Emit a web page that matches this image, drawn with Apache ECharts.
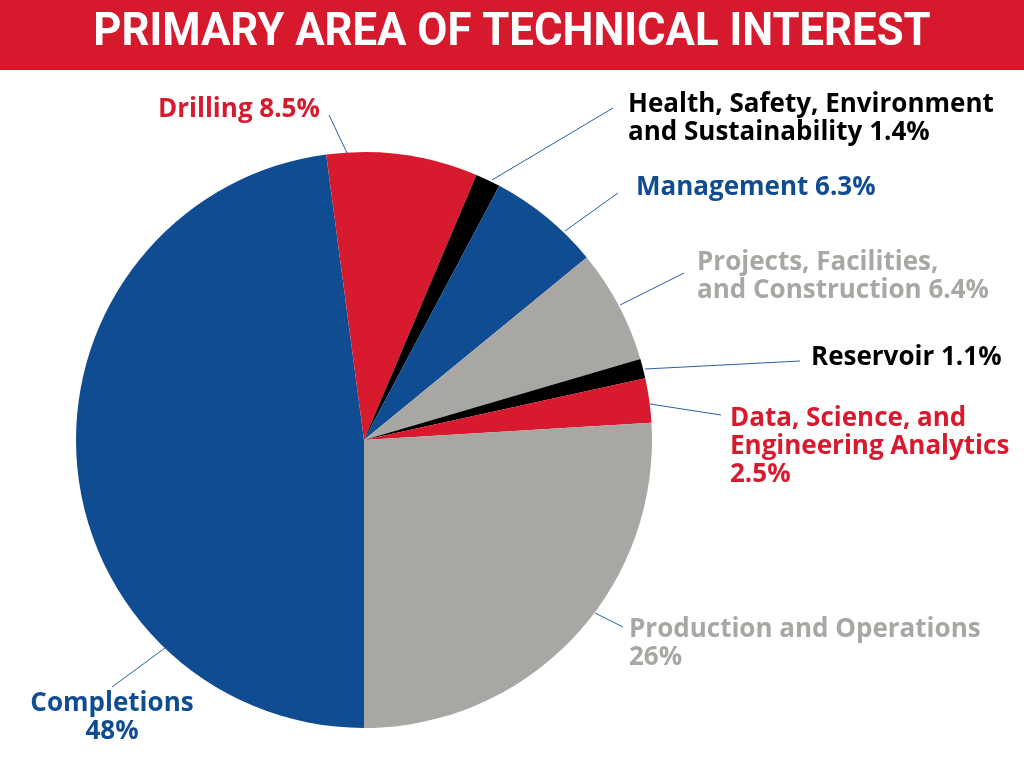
<!DOCTYPE html>
<html>
<head>
<meta charset="utf-8">
<script src="https://cdn.jsdelivr.net/npm/echarts@6/dist/echarts.min.js"></script>
<style>
  html, body { margin: 0; padding: 0; background: #ffffff; }
  #chart { width: 1024px; height: 768px; }
</style>
</head>
<body>
<div id="chart"></div>
<script>
// ---- Data ----
const titleText = 'PRIMARY AREA OF TECHNICAL INTEREST';
const categories = [
  'Completions',
  'Drilling',
  'Health, Safety, Environment\nand Sustainability',
  'Management',
  'Projects, Facilities,\nand Construction',
  'Reservoir',
  'Data, Science, and\nEngineering Analytics',
  'Production and Operations'
];
const values = [48, 8.5, 1.4, 6.3, 6.4, 1.1, 2.5, 26];
const valueLabels = ['48%', '8.5%', '1.4%', '6.3%', '6.4%', '1.1%', '2.5%', '26%'];
const labelSeparators = ['\n', ' ', ' ', ' ', ' ', ' ', '\n', '\n'];

// ---- Styles / layout ----
const RED = '#D71A2E', BLUE = '#0F4C92', GRAY = '#A8A7A3', BLACK = '#000000';
const sliceColors = [BLUE, RED, BLACK, BLUE, GRAY, BLACK, RED, GRAY];
const labelColors = [BLUE, RED, BLACK, BLUE, GRAY, BLACK, RED, GRAY];
// label anchor (x, y top), alignment, and leader line [start, end]
const labelLayouts = [
  { x: 112, y: 690, align: 'center', line: [[165, 648], [112, 687]] },
  { x: 158, y: 96,  align: 'left',   line: [[347, 153], [329, 115]] },
  { x: 628, y: 91,  align: 'left',   line: [[492, 180], [613, 108]] },
  { x: 636, y: 174, align: 'left',   line: [[565, 231], [618, 193]] },
  { x: 697, y: 249, align: 'left',   line: [[620, 305], [684, 273]] },
  { x: 811, y: 344, align: 'left',   line: [[645, 369], [800, 361]] },
  { x: 730, y: 405, align: 'left',   line: [[650, 404], [721, 415]] },
  { x: 629, y: 616, align: 'left',   line: [[595, 613], [623, 627]] }
];
const FONT = '"Open Sans"';

const chart = echarts.init(document.getElementById('chart'), null, { renderer: 'canvas' });

const data = categories.map((c, i) => ({
  name: c,
  value: values[i],
  itemStyle: { color: sliceColors[i] },
  label: { color: labelColors[i], align: labelLayouts[i].align }
}));

chart.setOption({
  backgroundColor: '#ffffff',
  animation: false,
  graphic: [
    { type: 'rect', left: 0, top: 0, shape: { width: 1024, height: 70 }, style: { fill: '#D6192D' }, z: 0 },
    {
      type: 'text', x: 512, y: 33, scaleX: 0.95,
      style: {
        text: titleText, fill: '#ffffff',
        font: 'bold 46px Roboto',
        textAlign: 'center', textVerticalAlign: 'middle'
      }, z: 1
    }
  ],
  series: [{
    type: 'pie',
    center: [364, 440],
    radius: 288,
    startAngle: 270,
    clockwise: true,
    data: data,
    itemStyle: { borderWidth: 0 },
    label: {
      show: true,
      position: 'outside',
      overflow: 'none',
      fontFamily: FONT,
      fontWeight: 'bold',
      fontSize: 26,
      lineHeight: 28,
      formatter: p => p.name + labelSeparators[p.dataIndex] + valueLabels[p.dataIndex]
    },
    labelLine: { show: true, lineStyle: { color: '#2A5EA8', width: 1 } },
    labelLayout: function (params) {
      const L = labelLayouts[params.dataIndex];
      return {
        x: L.x, y: L.y, align: L.align, verticalAlign: 'top',
        labelLinePoints: L.line
      };
    },
    emphasis: { disabled: true }
  }]
});
</script>
</body>
</html>
